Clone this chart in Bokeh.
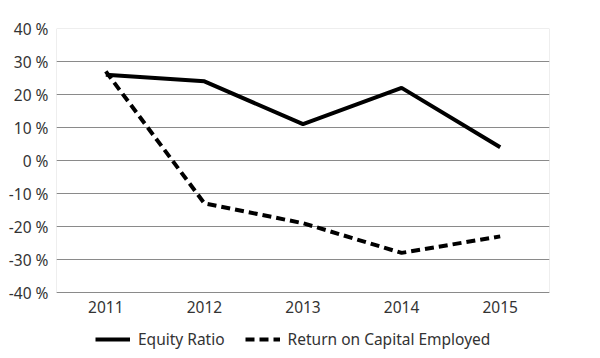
from bokeh.plotting import figure
from bokeh.models import (ColumnDataSource, Legend, LegendItem, FixedTicker, FactorRange,
                          Range1d, BoxAnnotation)
from bokeh.embed import file_html
from bokeh.resources import INLINE

years = ["2011", "2012", "2013", "2014", "2015"]
equity_ratio = [26, 24, 11, 22, 4]
roce = [27, -13, -19, -28, -23]
y_ticks = [-40, -30, -20, -10, 0, 10, 20, 30, 40]
y_labels = ["-40 %", "-30 %", "-20 %", "-10 %", "0 %", "10 %", "20 %", "30 %", "40 %"]

FONT = "Noto Sans"
TXT = "#333333"
GRID = "#8a8a8a"

src = ColumnDataSource(dict(x=years, eq=equity_ratio, ro=roce))

# frame extends to the bottom of the window so the legend can sit inside it
p = figure(x_range=FactorRange(*years, range_padding=0), y_range=Range1d(-60, 40),
           frame_width=493, frame_height=330, output_backend="svg", toolbar_location=None,
           min_border_left=56, min_border_right=51, min_border_top=28, min_border_bottom=0)

r1 = p.line("x", "eq", source=src, line_color="black", line_width=4)
r2 = p.line("x", "ro", source=src, line_color="black", line_width=4, line_dash="9 5")

p.outline_line_color = None
p.add_layout(BoxAnnotation(top=y_ticks[-1], bottom=y_ticks[0], fill_alpha=0,
                           line_color=GRID, line_width=1))
p.xgrid.grid_line_color = None
p.ygrid.grid_line_color = GRID
p.ygrid.grid_line_width = 1

p.yaxis.ticker = FixedTicker(ticks=y_ticks)
p.yaxis.major_label_overrides = {t: l for t, l in zip(y_ticks, y_labels)}
p.xaxis.fixed_location = y_ticks[0]
for ax in (p.xaxis, p.yaxis):
    ax.axis_line_color = None
    ax.major_tick_line_color = None
    ax.minor_tick_line_color = None
    ax.major_tick_out = 0
    ax.major_tick_in = 0
    ax.minor_tick_out = 0
    ax.major_label_text_font = FONT
    ax.major_label_text_font_size = "15.5px"
    ax.major_label_text_color = TXT
p.yaxis.major_label_standoff = 8
p.xaxis.major_label_standoff = 8

legend = Legend(items=[LegendItem(label="Equity Ratio", renderers=[r1]),
                       LegendItem(label="Return on Capital Employed", renderers=[r2])],
                orientation="horizontal", location=(39, 8),
                label_text_font=FONT, label_text_font_size="15.5px", label_text_color=TXT,
                glyph_width=35, glyph_height=14, spacing=20, label_standoff=8,
                border_line_color=None, background_fill_alpha=0, padding=2, margin=0)
p.add_layout(legend, "center")

open("out.html", "w").write(file_html(p, INLINE))
